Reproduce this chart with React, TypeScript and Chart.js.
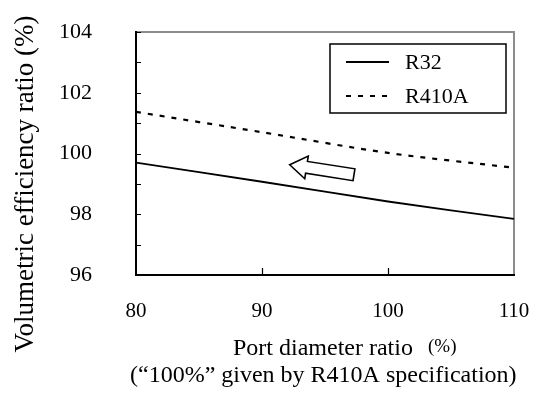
import React, { useEffect, useRef } from "react";
import { Chart, registerables } from "chart.js";

Chart.register(...registerables);

// ---- data ----
const portDiameter = [80, 90, 100, 110];
const r32Values = [99.7, 99.07, 98.42, 97.85];
const r410aValues = [101.37, 100.7, 100.02, 99.53];
const seriesNames = ["R32", "R410A"];
const xTickValues = [80, 90, 100, 110];
const yTickValues = [96, 98, 100, 102, 104];
const yMinorStep = 1;
const yAxisTitle = "Volumetric efficiency ratio (%)";
const xAxisTitle = "Port diameter ratio";
const xAxisUnit = "(%)";
const footNote = "(\u201C100%\u201D given by R410A specification)";
// arrow annotation (tip and tail in data units)
const arrowTip = { x: 92.2, y: 99.63 };
const arrowTail = { x: 97.3, y: 99.3 };

const FONT = "'Liberation Serif', 'Times New Roman', serif";
Chart.defaults.font.family = FONT;

const decorPlugin = {
  id: "decor",
  beforeDatasetsDraw(chart: any) {
    const { ctx, chartArea: a, scales } = chart;
    const y = scales.y;
    const x = scales.x;
    ctx.save();
    // top & right border (gray)
    ctx.strokeStyle = "#8c8c8c";
    ctx.lineWidth = 2;
    ctx.beginPath();
    ctx.moveTo(a.left, a.top);
    ctx.lineTo(a.right, a.top);
    ctx.lineTo(a.right, a.bottom);
    ctx.stroke();
    // left & bottom axes (black)
    ctx.strokeStyle = "#000";
    ctx.lineWidth = 2;
    ctx.beginPath();
    ctx.moveTo(a.left, a.top - 1);
    ctx.lineTo(a.left, a.bottom);
    ctx.lineTo(a.right + 1, a.bottom);
    ctx.stroke();
    // inward ticks
    ctx.lineWidth = 1.2;
    ctx.beginPath();
    for (let v = y.min; v <= y.max + 1e-9; v += yMinorStep) {
      const py = Math.round(y.getPixelForValue(v)) + 0.5;
      ctx.moveTo(a.left, py);
      ctx.lineTo(a.left + 5, py);
    }
    for (const v of xTickValues) {
      if (v === x.min || v === x.max) continue;
      const px = Math.round(x.getPixelForValue(v)) + 0.5;
      ctx.moveTo(px, a.bottom);
      ctx.lineTo(px, a.bottom - 7);
    }
    ctx.stroke();
    ctx.restore();
  },
  afterDatasetsDraw(chart: any) {
    const { ctx, chartArea: a, scales } = chart;
    const xs = scales.x;
    const ys = scales.y;
    ctx.save();

    // legend box
    const bx = a.right - 184;
    const by = a.top + 12;
    const bw = 176;
    const bh = 69;
    ctx.fillStyle = "#fff";
    ctx.fillRect(bx, by, bw, bh);
    ctx.strokeStyle = "#000";
    ctx.lineWidth = 1.5;
    ctx.strokeRect(bx, by, bw, bh);
    chart.data.datasets.forEach((ds: any, i: number) => {
      const ly = by + 18 + i * 34;
      ctx.beginPath();
      ctx.setLineDash(ds.borderDash || []);
      ctx.lineWidth = ds.borderWidth;
      ctx.strokeStyle = ds.borderColor;
      ctx.moveTo(bx + 16, ly);
      ctx.lineTo(bx + 59, ly);
      ctx.stroke();
      ctx.setLineDash([]);
      ctx.fillStyle = "#000";
      ctx.font = `22px ${FONT}`;
      ctx.textAlign = "left";
      ctx.textBaseline = "middle";
      ctx.fillText(ds.label, bx + 75, ly + 1);
    });

    // hollow arrow
    const tx = xs.getPixelForValue(arrowTip.x);
    const ty = ys.getPixelForValue(arrowTip.y);
    const ex = xs.getPixelForValue(arrowTail.x);
    const ey = ys.getPixelForValue(arrowTail.y);
    const ang = Math.atan2(ey - ty, ex - tx);
    const len = Math.hypot(ex - tx, ey - ty);
    ctx.translate(tx, ty);
    ctx.rotate(ang);
    const headLen = 17;
    const headHalf = 11.5;
    const shaftHalf = 6;
    ctx.beginPath();
    ctx.moveTo(0, 0);
    ctx.lineTo(headLen, -headHalf);
    ctx.lineTo(headLen, -shaftHalf);
    ctx.lineTo(len, -shaftHalf);
    ctx.lineTo(len, shaftHalf);
    ctx.lineTo(headLen, shaftHalf);
    ctx.lineTo(headLen, headHalf);
    ctx.closePath();
    ctx.fillStyle = "#fff";
    ctx.fill();
    ctx.strokeStyle = "#000";
    ctx.lineWidth = 1.6;
    ctx.stroke();
    ctx.setTransform(1, 0, 0, 1, 0, 0);

    // axis titles
    ctx.fillStyle = "#000";
    ctx.textBaseline = "alphabetic";
    ctx.save();
    ctx.translate(33, 184);
    ctx.rotate(-Math.PI / 2);
    ctx.textAlign = "center";
    ctx.font = `27px ${FONT}`;
    ctx.fillText(yAxisTitle, 0, 0);
    ctx.restore();

    ctx.textAlign = "left";
    ctx.font = `24px ${FONT}`;
    ctx.fillText(xAxisTitle, 233, 355);
    ctx.font = `19px ${FONT}`;
    ctx.fillText(xAxisUnit, 428, 352);
    ctx.font = `24px ${FONT}`;
    ctx.fillText(footNote, 130, 382);
    ctx.restore();
  },
};

export default function App() {
  const ref = useRef<HTMLCanvasElement>(null);
  useEffect(() => {
    if (!ref.current) return;
    const chart = new Chart(ref.current, {
      type: "line",
      data: {
        labels: portDiameter,
        datasets: [
          {
            label: seriesNames[0],
            data: portDiameter.map((x, i) => ({ x, y: r32Values[i] })),
            borderColor: "#000",
            borderWidth: 1.8,
            pointRadius: 0,
            tension: 0.3,
            fill: false,
          },
          {
            label: seriesNames[1],
            data: portDiameter.map((x, i) => ({ x, y: r410aValues[i] })),
            borderColor: "#000",
            borderWidth: 2.2,
            borderDash: [5, 7],
            pointRadius: 0,
            tension: 0.3,
            fill: false,
          },
        ],
      },
      options: {
        responsive: false,
        animation: false,
        layout: { padding: { top: 32, right: 36, left: 0, bottom: 0 } },
        plugins: {
          legend: { display: false },
          tooltip: { enabled: false },
        },
        scales: {
          x: {
            type: "linear",
            min: xTickValues[0],
            max: xTickValues[xTickValues.length - 1],
            afterBuildTicks: (s: any) => {
              s.ticks = xTickValues.map((v) => ({ value: v }));
            },
            grid: { display: false, drawTicks: false },
            border: { display: false },
            ticks: {
              color: "#000",
              font: { family: FONT, size: 21 },
              padding: 24,
              maxRotation: 0,
            },
            afterFit: (s: any) => {
              s.height = 126;
              s.paddingLeft = 0;
              s.paddingRight = 0;
            },
          },
          y: {
            type: "linear",
            min: yTickValues[0],
            max: yTickValues[yTickValues.length - 1],
            afterBuildTicks: (s: any) => {
              s.ticks = yTickValues.map((v) => ({ value: v }));
            },
            grid: { display: false, drawTicks: false },
            border: { display: false },
            ticks: {
              color: "#000",
              font: { family: FONT, size: 22 },
              padding: 44,
            },
            afterFit: (s: any) => {
              s.width = 136;
              s.paddingTop = 0;
              s.paddingBottom = 0;
            },
          },
        },
      },
      plugins: [decorPlugin],
    });
    return () => chart.destroy();
  }, []);
  return (
    <div style={{ position: "fixed", left: 0, top: 0, width: 550, height: 401, background: "#fff" }}>
      <canvas ref={ref} width={550} height={401} />
    </div>
  );
}
